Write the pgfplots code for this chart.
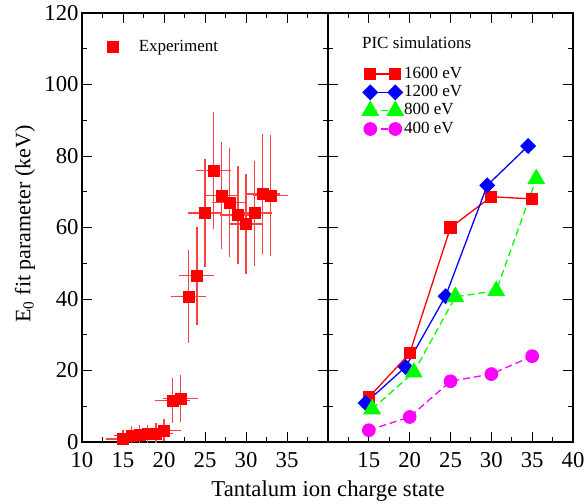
\documentclass[border=0pt]{standalone}
\usepackage{pgfplots}
\usepackage{pgfplotstable}
\pgfplotsset{compat=1.18}
\usepackage{fontspec}
\setmainfont{Liberation Serif}
\definecolor{errred}{RGB}{255,65,65}
\definecolor{mag}{RGB}{255,0,255}
\definecolor{grn}{RGB}{0,255,0}
\definecolor{blu}{RGB}{0,0,255}
\pgfplotstableread{
q E dq dE
15 0.8 1.4 0.8
16 1.8 1.4 0.9
17 2.0 1.4 1.0
18 2.2 1.4 1.0
19 2.4 1.4 1.1
20 3.3 1.4 1.4
21 11.6 1.4 4.6
22 12.2 1.4 4.8
23 40.7 1.4 11.3
24 46.5 1.4 12.0
25 64.0 1.4 13.5
26 76.0 1.4 14.7
27 69.0 1.4 13.2
28 67.0 1.4 13.5
29 63.5 1.4 12.0
30 61.0 1.4 12.4
31 64.0 1.4 13.0
32 69.4 1.4 15.0
33 69.0 1.4 15.3
}\expdata
\pgfplotsset{
  common/.style={
    scale only axis, height=429bp,
    anchor=south west,
    xmin=10, xmax=40, ymin=0, ymax=120,
    ytick={0,20,...,120}, minor ytick={10,30,...,110},
    minor xtick={12.5,17.5,...,37.5},
    tick align=inside, major tick length=10bp, minor tick length=5bp,
    every tick/.style={black, line width=0.9bp},
    axis line style={line width=1.1bp},
    tick label style={font=\fontsize{22.7bp}{25bp}\selectfont},
    xticklabel style={yshift=-7bp},
    /pgf/number format/assume math mode=true,
    legend style={draw=none, fill=none, inner sep=0pt, row sep=0.3bp,
      font=\fontsize{17bp}{19bp}\selectfont,
      nodes={inner sep=1bp, text height=12bp, text depth=4bp}},
    legend cell align=left,
  },
  twoend/.style={legend image code/.code={\draw[##1] plot coordinates {(0bp,0bp) (25bp,0bp)};}},
}
\begin{document}
\begin{tikzpicture}
\useasboundingbox (0bp,0bp) rectangle (586bp,504bp);
\begin{axis}[common, width=246bp, at={(82bp,62bp)},
  xtick={10,15,...,40}, xticklabels={10,15,20,25,30,35,{}},
  legend style={at={(0.1,0.942)}, anchor=north west}]
\addplot+[only marks, mark=square*, mark size=5.5bp, red,
  mark options={fill=red, draw=red},
  error bars/.cd, x dir=both, x explicit, y dir=both, y explicit,
  error bar style={errred, line width=1.4bp},
  error mark options={errred, mark size=6bp, line width=1.4bp}]
  table[x=q, y=E, x error=dq, y error=dE] {\expdata};
\addlegendentry{\hspace{20bp}Experiment}
\end{axis}
\begin{axis}[common, width=245bp, at={(328bp,62bp)},
  xtick={10,15,...,40}, xticklabels={{},15,20,25,30,35,40},
  yticklabels={},
  legend style={at={(0.14,0.879)}, anchor=north west}]
\node[anchor=base west, font=\fontsize{17bp}{19bp}\selectfont, inner sep=0pt] at (axis cs:14.15,110) {PIC simulations};
\addplot[twoend, red, line width=1.3bp, mark=square*, mark size=5.5bp, mark options={fill=red, solid}]
  coordinates {(15,12.5) (20,24.8) (25,60) (30,68.6) (35,68)};
\addlegendentry{1600 eV}
\addplot[twoend, blu, line width=1.3bp, mark=square*, mark size=5bp, mark options={fill=blu, solid, rotate=45}]
  coordinates {(14.6,10.9) (19.5,21) (24.4,40.8) (29.5,71.8) (34.5,82.8)};
\addlegendentry{1200 eV}
\addplot[twoend, grn, line width=1.3bp, dash pattern=on 7bp off 4bp, mark=triangle*, mark size=9bp, mark options={fill=grn, solid}]
  coordinates {(15.4,9.2) (20.5,19.5) (25.6,40.6) (30.6,42.3) (35.5,73.6)};
\addlegendentry{800 eV}
\addplot[twoend, mag, line width=1.3bp, dash pattern=on 7bp off 4bp, mark=*, mark size=6.2bp, mark options={fill=mag, solid}]
  coordinates {(15,3.3) (20,7) (25,17) (30,19) (35,24)};
\addlegendentry{400 eV}
\end{axis}
\node[anchor=base, font=\fontsize{22.7bp}{25bp}\selectfont] at (328bp,8bp) {Tantalum ion charge state};
\node[rotate=90, font=\fontsize{22bp}{25bp}\selectfont] at (25bp,280bp) {E\textsubscript{0} fit parameter (keV)};
\end{tikzpicture}
\end{document}
